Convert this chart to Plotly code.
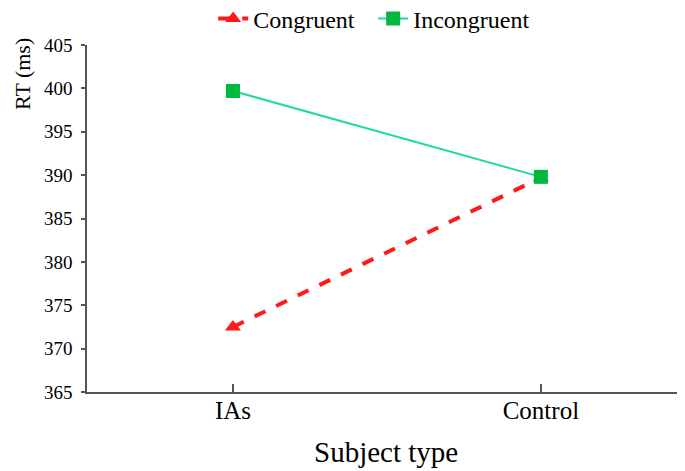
import plotly.graph_objects as go

categories = ["IAs", "Control"]
congruent = [372.5, 389.7]
incongruent = [399.7, 389.8]
y_ticks = [365, 370, 375, 380, 385, 390, 395, 400, 405]

FONT = "Liberation Serif"

fig = go.Figure()
fig.add_trace(go.Scatter(
    x=[0, 1], y=congruent, name="Congruent", mode="lines+markers",
    line=dict(color="#ff1a1a", width=4, dash="dash"),
    marker=dict(symbol="triangle-up", size=14, color="#ff1a1a"),
))
fig.add_trace(go.Scatter(
    x=[0, 1], y=incongruent, name="Incongruent", mode="lines+markers",
    line=dict(color="#1fd9a0", width=2),
    marker=dict(symbol="square", size=14, color="#00b83f"),
))

fig.update_layout(
    width=677, height=463,
    margin=dict(l=79, r=0, t=37, b=79, autoexpand=False),
    paper_bgcolor="white", plot_bgcolor="white",
    font=dict(family=FONT, color="black"),
    showlegend=True,
    legend=dict(orientation="h", x=0.211, xanchor="left", y=1.14, yanchor="top",
                entrywidth=115, entrywidthmode="pixels",
                font=dict(size=24, family=FONT), bgcolor="rgba(0,0,0,0)"),
    xaxis=dict(
        range=[-0.474, 1.468], tickvals=[0, 1], ticktext=categories,
        showline=True, linecolor="#555555", linewidth=1.5,
        ticks="inside", ticklen=8, tickcolor="#555555", tickwidth=1.5,
        showgrid=False, zeroline=False, tickfont=dict(size=25, family=FONT),
        ticklabelstandoff=-5, automargin=False,
    ),
    yaxis=dict(
        range=[365, 405], tickvals=y_ticks,
        showline=True, linecolor="#555555", linewidth=1.5,
        ticks="outside", ticklen=4, tickcolor="#555555", tickwidth=1.5,
        showgrid=False, zeroline=False, tickfont=dict(size=19, family=FONT),
        ticklabelstandoff=5, automargin=False,
    ),
    annotations=[
        dict(text="RT (ms)", x=-0.109, y=0.916, xref="paper", yref="paper",
             textangle=-90, showarrow=False, font=dict(size=22, family=FONT),
             xanchor="center", yanchor="middle", borderpad=0),
        dict(text="Subject type", x=0.5, y=-0.173, xref="paper", yref="paper",
             showarrow=False, font=dict(size=29, family=FONT),
             xanchor="center", yanchor="middle"),
    ],
)

fig.write_html("out.html")
